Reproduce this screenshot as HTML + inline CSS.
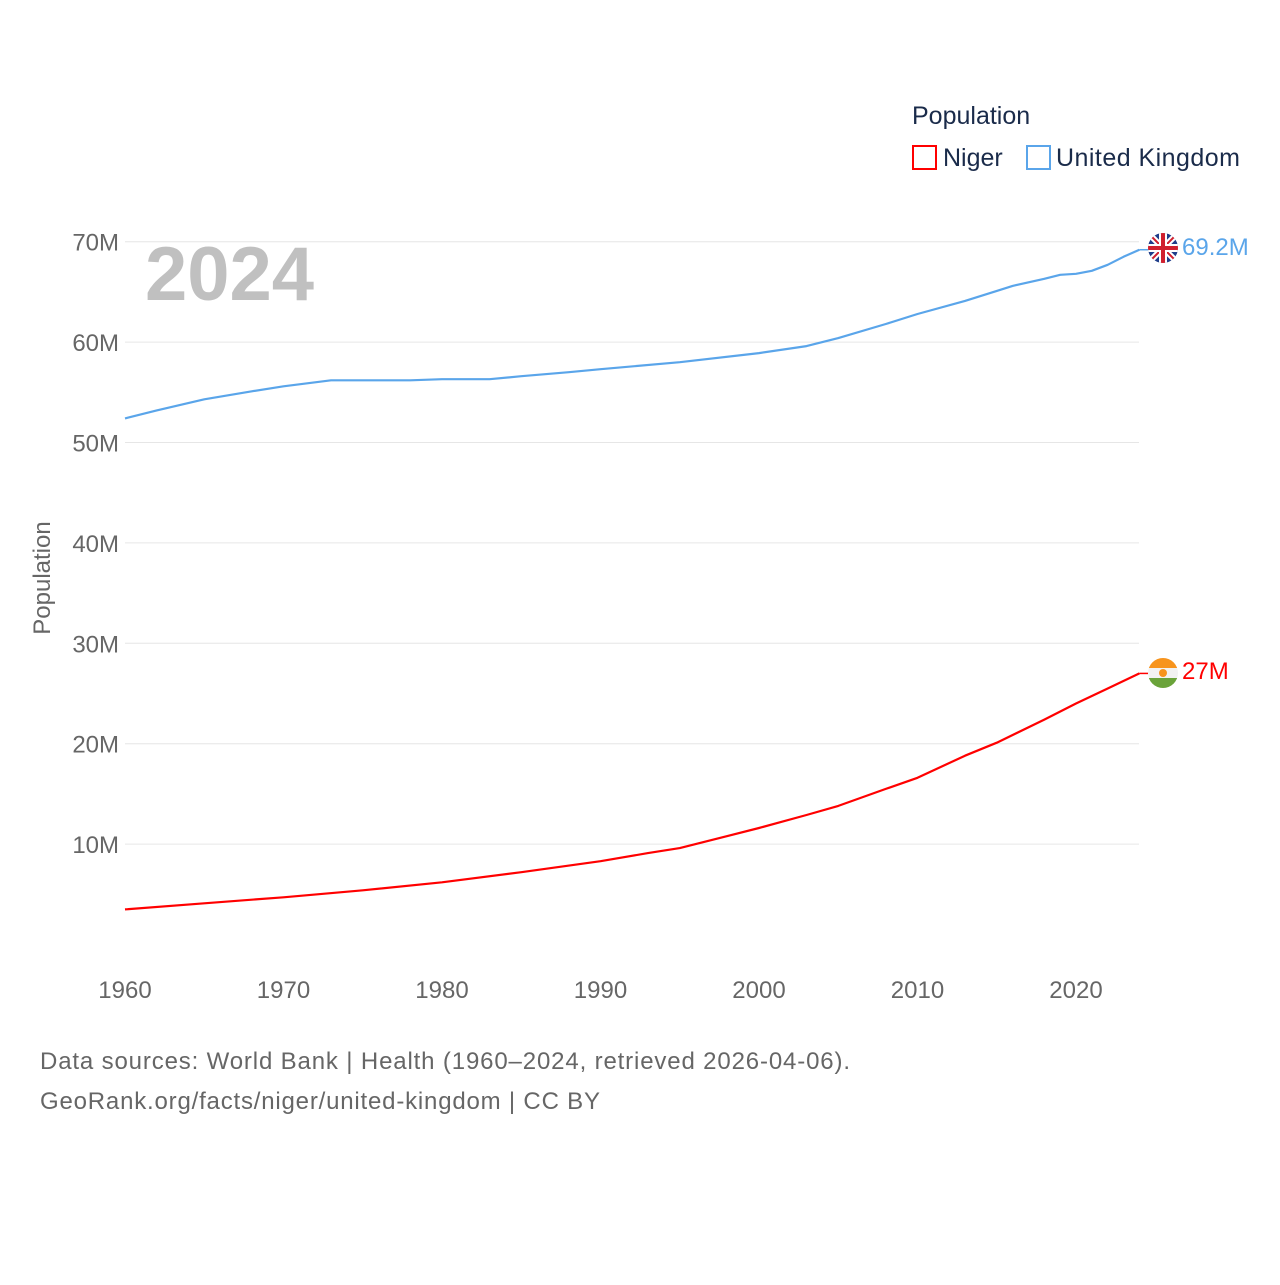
<!DOCTYPE html>
<html><head><meta charset="utf-8"><style>
body{margin:0;background:#fff;font-family:"Liberation Sans",sans-serif}
</style></head><body>
<svg id="chart" width="1280" height="1280" viewBox="0 0 1280 1280">
<defs>
<clipPath id="cu"><circle cx="1163" cy="248" r="15"/></clipPath>
<clipPath id="cn"><circle cx="1163" cy="673" r="15"/></clipPath>
</defs>
<g id="grid"></g>
<g id="yt"></g>
<g id="xt"></g>
<text x="145" y="300" font-size="76" font-weight="bold" fill="#c0c0c0">2024</text>
<text transform="translate(50,578) rotate(-90)" text-anchor="middle" font-size="24" fill="#666">Population</text>
<g id="lines"></g>
<g>
<text x="912" y="124" font-size="25" fill="#1a2b4a">Population</text>
<g><rect x="913" y="146" width="23" height="23" fill="none" stroke="#ff0000" stroke-width="2"/><text x="943" y="166" font-size="25" fill="#1a2b4a">Niger</text></g>
<g><rect x="1027" y="146" width="23" height="23" fill="none" stroke="#5aa5ea" stroke-width="2"/><text x="1056" y="166" font-size="25" fill="#1a2b4a" textLength="184">United Kingdom</text></g>
</g>
<g clip-path="url(#cu)">
<rect x="1148" y="233" width="30" height="30" fill="#1f3d8a"/>
<path d="M1148 233L1178 263M1178 233L1148 263" stroke="#fff" stroke-width="6"/>
<path d="M1148 233L1178 263M1178 233L1148 263" stroke="#d0202e" stroke-width="2"/>
<rect x="1148" y="244" width="30" height="8" fill="#fff"/><rect x="1159" y="233" width="8" height="30" fill="#fff"/>
<rect x="1148" y="246" width="30" height="4" fill="#d0202e"/><rect x="1161" y="233" width="4" height="30" fill="#d0202e"/>
</g>
<g clip-path="url(#cn)">
<rect x="1148" y="658" width="30" height="10" fill="#f7941d"/><rect x="1148" y="668" width="30" height="10" fill="#f2f2f2"/><rect x="1148" y="678" width="30" height="10" fill="#6aa33a"/><circle cx="1163" cy="673" r="4" fill="#f7941d"/>
</g>
<text x="1182" y="255" font-size="24" fill="#5aa5ea">69.2M</text>
<text x="1182" y="679" font-size="24" fill="#ff0000">27M</text>
<text x="40" y="1069" font-size="24" fill="#666" textLength="810">Data sources: World Bank | Health (1960–2024, retrieved 2026-04-06).</text>
<text x="40" y="1109" font-size="24" fill="#666" textLength="560">GeoRank.org/facts/niger/united-kingdom | CC BY</text>
</svg>
<script>
const yTicks=[10,20,30,40,50,60,70];
const xTicks=[1960,1970,1980,1990,2000,2010,2020];
const ukYears=[1960,1962,1965,1968,1970,1972,1973,1975,1978,1980,1983,1985,1988,1990,1995,2000,2003,2005,2008,2010,2013,2015,2016,2018,2019,2020,2021,2022,2023,2024];
const ukVals=[52.4,53.2,54.3,55.1,55.6,56.0,56.2,56.2,56.2,56.3,56.3,56.6,57.0,57.3,58.0,58.9,59.6,60.4,61.8,62.8,64.1,65.1,65.6,66.3,66.7,66.8,67.1,67.7,68.5,69.2];
const ngYears=[1960,1965,1970,1975,1980,1985,1990,1993,1995,1998,2000,2003,2005,2008,2010,2013,2015,2018,2020,2022,2024];
const ngVals=[3.5,4.1,4.7,5.4,6.2,7.2,8.3,9.1,9.6,10.8,11.6,12.9,13.8,15.5,16.6,18.8,20.1,22.4,24.0,25.5,27.0];
const X=y=>125+(y-1960)*15.85;
const Y=v=>944.5-v*10.04;
const NS="http://www.w3.org/2000/svg";
function mk(t,a,p){const e=document.createElementNS(NS,t);for(const k in a)e.setAttribute(k,a[k]);document.getElementById(p).appendChild(e);return e;}
yTicks.forEach(t=>{
 const l=mk('line',{x1:125,x2:1139,y1:Y(t*1),y2:Y(t*1),stroke:'#e6e6e6','stroke-width':1},'grid');
 
 
 const tx=mk('text',{x:119,y:Y(t)+9,'text-anchor':'end','font-size':24,fill:'#666'},'yt');
 tx.textContent=t+'M';
 
 
});
xTicks.forEach(t=>{
 const tx=mk('text',{x:X(t),y:998,'text-anchor':'middle','font-size':24,fill:'#666'},'xt');
 tx.textContent=t;
 
 
});
function line(ys,vs,c,n){
 const d=ys.map((y,i)=>(i?'L':'M')+X(y).toFixed(1)+' '+Y(vs[i]).toFixed(1)).join('');
 const p=mk('path',{d:d,fill:'none',stroke:c,'stroke-width':2.2,'stroke-linejoin':'round'},'lines');
 
 
 const last=vs[vs.length-1];
 mk('line',{x1:X(2024),y1:Y(last),x2:1148,y2:Y(last),stroke:c,'stroke-width':1.5},'lines');
}
line(ukYears,ukVals,'#5aa5ea','uk-line');
line(ngYears,ngVals,'#ff0000','niger-line');
</script>
</body></html>
